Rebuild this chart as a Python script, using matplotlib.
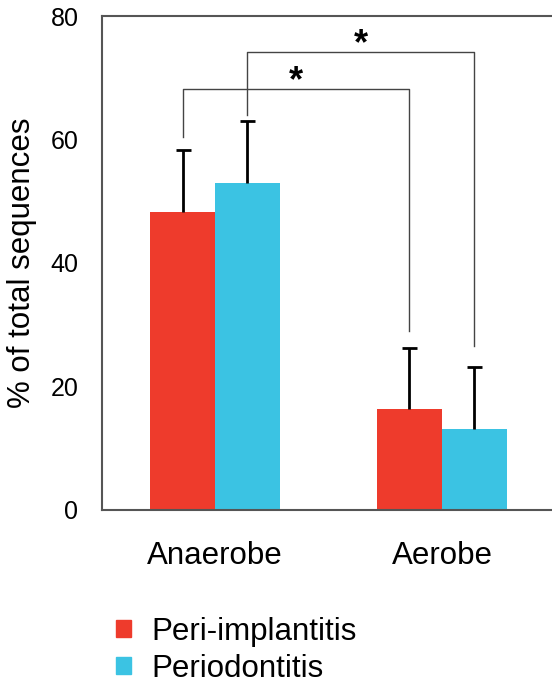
import numpy as np
import matplotlib
matplotlib.use('Agg')
import matplotlib.pyplot as plt
from matplotlib.patches import Patch

plt.rcParams['font.family'] = ['Liberation Sans', 'DejaVu Sans']

groups = ['Anaerobe', 'Aerobe']
series = ['Peri-implantitis', 'Periodontitis']
peri_mean = [48.3, 16.4]
peri_err = [10.0, 9.8]
perio_mean = [53.0, 13.1]
perio_err = [10.0, 10.1]
colors = ['#EE3B2C', '#3BC3E3']

# significance brackets: (x of left bar, x of right bar, left end, top, right end)
brackets = [
    (-0.143, 0.857, 60.4, 68.2, 29.0),
    (0.143, 1.143, 64.0, 74.2, 26.6),
]

fig = plt.figure(figsize=(5.52, 6.84), dpi=100)
ax = fig.add_axes([0.1848, 0.2544, 0.8152, 0.7222])

x = np.arange(len(groups))
w = 0.286
for off, mean, err, c in [(-w / 2, peri_mean, peri_err, colors[0]),
                          (w / 2, perio_mean, perio_err, colors[1])]:
    ax.bar(x + off, mean, w, color=c)
    eb = ax.errorbar(x + off, mean, yerr=[[0] * len(err), err], fmt='none',
                     ecolor='black', elinewidth=2, capsize=5.4, capthick=2)
    eb.lines[1][0].set_visible(False)

for x0, x1, y0, ytop, y1 in brackets:
    ax.plot([x0, x0, x1, x1], [y0, ytop, ytop, y1], color='#444444', lw=1.0)
    ax.text((x0 + x1) / 2, ytop - 1.7, '*', fontsize=26, ha='center',
            va='bottom', fontweight='bold')

ax.set_xlim(-0.498, 1.485)
ax.set_ylim(0, 80)
ax.set_yticks([0, 20, 40, 60, 80])
ax.set_xticks(x)
ax.set_xticklabels(groups, fontsize=22.5)
ax.tick_params(axis='y', length=0, labelsize=18, pad=17)
ax.tick_params(axis='x', length=0, pad=22)
ax.set_ylabel('% of total sequences', fontsize=22.5, labelpad=10)
ax.spines['right'].set_visible(False)
for s in ['left', 'top', 'bottom']:
    ax.spines[s].set_color('#555555')
    ax.spines[s].set_linewidth(1.5)

handles = [Patch(color=c) for c in colors]
fig.legend(handles, series, loc='upper left', bbox_to_anchor=(0.211, 0.098),
           frameon=False, fontsize=22.5, handlelength=0.45, handleheight=0.45,
           handletextpad=0.68, labelspacing=0.21, borderaxespad=0, borderpad=0)

fig.savefig('out.png', dpi=100)
